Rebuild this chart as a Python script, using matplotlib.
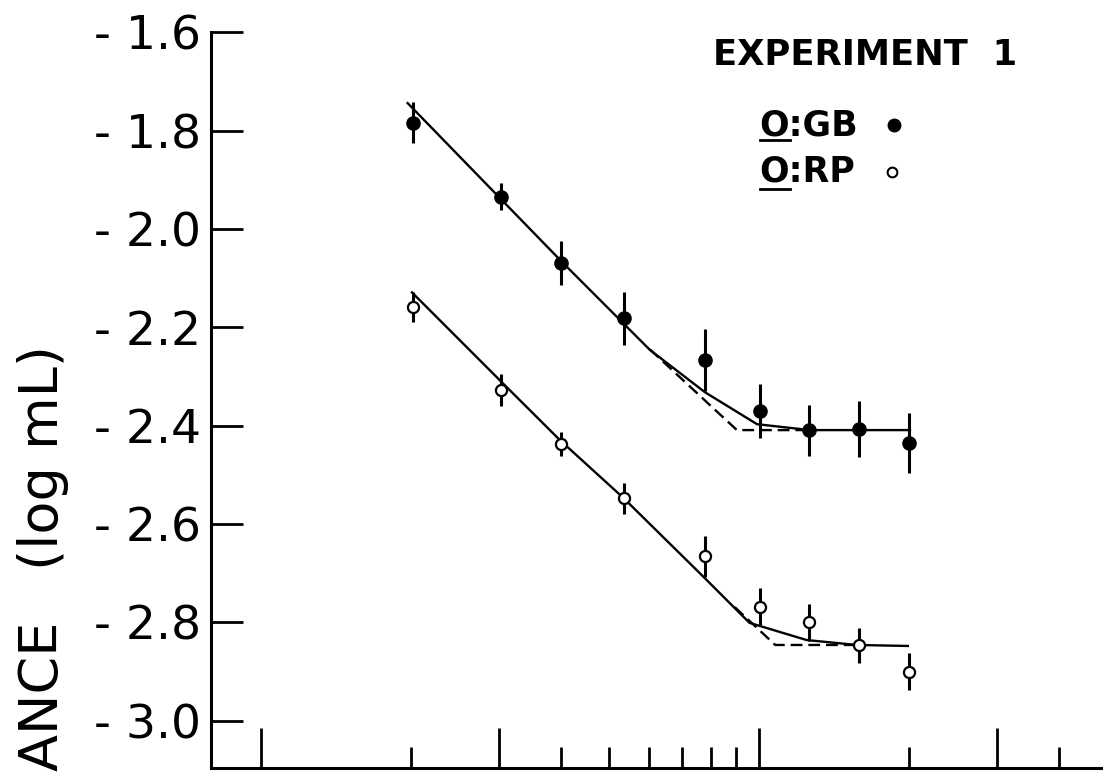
import numpy as np
import matplotlib.pyplot as plt
from matplotlib.lines import Line2D

# stimulus values (log-spaced axis) and thresholds, log mL
x_vals = [2.02, 3.03, 4.0, 5.36, 7.79, 10.05, 12.6, 15.9, 20.0]

gb_y = [-1.784, -1.934, -2.069, -2.182, -2.266, -2.370, -2.409, -2.407, -2.435]
gb_err = [0.042, 0.028, 0.044, 0.053, 0.063, 0.055, 0.052, 0.057, 0.061]

rp_y = [-2.159, -2.327, -2.437, -2.548, -2.666, -2.768, -2.800, -2.847, -2.900]
rp_err = [0.031, 0.032, 0.025, 0.032, 0.042, 0.038, 0.038, 0.036, 0.038]

# fitted curves (solid) and two-limb fits (dashed)
gb_fit_x = [1.97, 4.04, 6.04, 7.79, 9.91, 12.66, 20.1]
gb_fit_y = [-1.744, -2.069, -2.246, -2.332, -2.397, -2.409, -2.409]
gb_dash_x = [6.04, 9.03, 12.66]
gb_dash_y = [-2.245, -2.409, -2.409]

rp_fit_x = [2.01, 3.04, 3.98, 5.33, 7.73, 9.57, 12.47, 15.71, 19.9]
rp_fit_y = [-2.129, -2.311, -2.429, -2.546, -2.707, -2.801, -2.836, -2.846, -2.848]
rp_dash_x = [8.94, 10.78, 15.71]
rp_dash_y = [-2.769, -2.846, -2.846]

yticks = [-1.6, -1.8, -2.0, -2.2, -2.4, -2.6, -2.8, -3.0]
ytick_labels = ["- 1.6", "- 1.8", "- 2.0", "- 2.2", "- 2.4", "- 2.6", "- 2.8", "- 3.0"]
xmajor = [1, 3, 10, 30]
xminor = [2, 4, 5, 6, 7, 8, 9, 20, 40]

W, H = 1103, 773
fig = plt.figure(figsize=(W / 100, H / 100), dpi=100)
ax = fig.add_axes([211 / W, 5 / H, (W - 211) / W, (768 - 32.3) / H])

ax.set_xscale('log')
ax.set_xlim(0.7936, 49.07)
ax.set_ylim(-3.0962, -1.6)

for s in ['top', 'right']:
    ax.spines[s].set_visible(False)
for s in ['left', 'bottom']:
    ax.spines[s].set_linewidth(2.2)

ax.set_yticks(yticks)
ax.set_yticklabels(ytick_labels)
ax.tick_params(axis='y', direction='in', length=23, width=2, pad=7, labelsize=34)

ax.set_xticks(xmajor)
ax.set_xticks(xminor, minor=True)
ax.xaxis.set_major_formatter(plt.NullFormatter())
ax.xaxis.set_minor_formatter(plt.NullFormatter())
ax.tick_params(axis='x', which='major', direction='in', length=29, width=2)
ax.tick_params(axis='x', which='minor', direction='in', length=15, width=2)

# fit lines
ax.plot(gb_fit_x, gb_fit_y, 'k-', lw=1.7, zorder=2)
ax.plot(gb_dash_x, gb_dash_y, 'k--', lw=1.7, dashes=(5, 2.5), zorder=2)
ax.plot(rp_fit_x, rp_fit_y, 'k-', lw=1.7, zorder=2)
ax.plot(rp_dash_x, rp_dash_y, 'k--', lw=1.7, dashes=(5, 2.5), zorder=2)

# data with error bars
ax.errorbar(x_vals, gb_y, yerr=gb_err, fmt='none', ecolor='k', elinewidth=2.2, capsize=0, zorder=3)
ax.errorbar(x_vals, rp_y, yerr=rp_err, fmt='none', ecolor='k', elinewidth=2.2, capsize=0, zorder=3)
ax.plot(x_vals, gb_y, 'o', ms=9.5, mfc='k', mec='k', zorder=4)
ax.plot(x_vals, rp_y, 'o', ms=8, mfc='w', mec='k', mew=1.6, zorder=4)

# axis title
fig.text(43 / W, 1 - 771 / H, "ANCE   (log mL)", rotation=90,
         ha='center', va='bottom', fontsize=39)

# key
fig.text(713 / W, 1 - 55 / H, "EXPERIMENT  1", ha='left', va='center',
         fontsize=25.5, fontweight='bold')
fig.text(759 / W, 1 - 125 / H, "O:GB", ha='left', va='center', fontsize=25, fontweight='bold')
fig.text(759 / W, 1 - 172 / H, "O:RP", ha='left', va='center', fontsize=25, fontweight='bold')
for yy in [140, 189]:
    fig.add_artist(Line2D([760 / W, 790 / W], [1 - yy / H, 1 - yy / H], color='k', lw=2,
                          transform=fig.transFigure))
fig.add_artist(Line2D([894 / W], [1 - 125 / H], marker='o', ms=9, mfc='k', mec='k',
                      transform=fig.transFigure))
fig.add_artist(Line2D([892 / W], [1 - 172 / H], marker='o', ms=7, mfc='w', mec='k', mew=1.5,
                      transform=fig.transFigure))

fig.savefig('out.png', dpi=100)
